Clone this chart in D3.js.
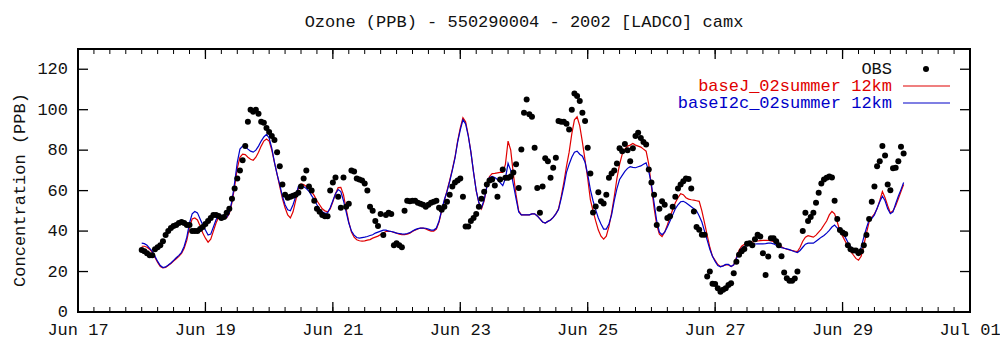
<!DOCTYPE html>
<html><head><meta charset="utf-8">
<script src="https://cdn.jsdelivr.net/npm/d3@7"></script>
<style>body{margin:0;background:#fff}svg{display:block}text{font-family:"Liberation Mono","DejaVu Sans Mono",monospace}</style>
</head><body>
<svg id="c" width="1000" height="347"></svg>
<script>
const titleText = "Ozone (PPB) - 550290004 - 2002 [LADCO] camx";
const yLabel = "Concentration (PPB)";
const seriesNames = ["OBS", "baseJ_02summer 12km", "baseI2c_02summer 12km"];
const seriesColors = ["#000000", "#e00000", "#0000c8"];
const startHour = Date.UTC(2002, 5, 18, 0); // first hourly value
const yTicks = [0, 20, 40, 60, 80, 100, 120];
const xTickDays = ["2002-06-17","2002-06-19","2002-06-21","2002-06-23","2002-06-25","2002-06-27","2002-06-29","2002-07-01"];

// hourly observations, Jun 18 00h .. Jun 29 23h
const obs = [
30.7,30,29,28,28,31,32,33,35,38,40,41.5,42.5,43,44,44.5,44,43,43,40,40,40,41,42,
43.5,45,46.5,48,48,47.5,46.5,47,49,51,56,61,66,70,75,82,94,100,99,100,98,94,93.5,91,
89,87,85,79,72,63,58,56.5,57,57.5,58,59,62,66,70,62,60,55,51,49.5,48,47.3,47.3,60,
64,66.5,57,51.5,66.5,52,53.5,70,69.5,66,65.5,65,63.5,60,52,50,45,42.5,48.5,38,48,49,48.5,33,
34,33,32,50,55,54.7,55,55,54,53.5,53,52,53,54,54.5,55,51.5,50.6,52,54.5,58,62,64,65,
66,57,42.3,42.3,45,46.5,48.5,52,56,59.5,63,65,65.5,62.5,57,65.5,70.4,66.3,66.3,67,69,73,61.3,80.3,
98.5,105,97.7,96.5,81.2,61.3,49,62,76,74.5,66.3,71.3,76.2,94.4,94,94,93,90.2,100,108,106.8,104.3,98.5,94.4,
81.2,68.4,49.2,52.2,59.2,54.7,53.6,58,66.3,68.4,70,73.4,81,79.5,83,80,74.5,81,87,88.6,86,84,82.8,70.4,
64,58,43,51,54.7,53,46.5,47.3,52,57,61,63,64.6,66,65.8,61,49.7,42,40.7,38.2,38.2,17.5,20,14,
13.9,11.7,10,11,11.7,13.4,14.2,19.2,24.9,28.3,30,31.1,33.7,34,33,36,38.2,37.3,29,18.3,27.4,36.5,36.5,35,
33,27.5,19.5,16.7,15.5,15.5,16.5,20,null,40,49,45,47,49,54,59,63.5,65.5,66.3,67,66.5,55,46,40.5,
39.3,38.5,33,31,30.4,30.4,29.1,30,33,38,46,54.5,62,72,74.5,82,77.4,63,60.2,71,71.3,74.5,81.7,78.3
];
// model baseJ_02summer 12km (red)
const baseJ = [
32.5,32.5,32,31,29.5,27,24.5,22.5,21.8,22,23,24,25.2,26.3,27.5,29,31.5,35.5,42,46,46.5,45.5,42.5,39,
36.5,34.5,36,40,44,47,47,46.5,46.5,48.5,54,62,71,76.5,78,77.8,76.5,75.5,75,76.5,79,82,84.5,85.5,
84.5,80,74,68,62,56,51.5,48,46.5,49.5,55,61,63.3,63,62,61,59.5,57.5,55,53,51,50,49.5,51,
54.5,58.5,61.5,61.6,58,51,44.5,39.5,37,35.7,35.2,35,35.2,35.5,35.8,36.5,37,37.5,38.3,39,39.8,40,39.8,39.3,
39,38.5,38.2,38.2,38.5,39,39.8,40.5,41,41.5,41.5,41,40.5,40,40,41,44.5,50,55,60,65,70.5,76.5,84.5,
91,96,94,87.5,79,69,60,54,51,55,62,67,68.4,68.5,68.8,69,69,73,84.5,80,68,58,50,48,
48,48,48,48.5,48.5,47.5,46,44.5,44,44.8,45.5,46.8,48.5,51,57,64,72,79,88,95,96.5,92,84,75,
66,55.5,50,45,40.5,37.5,36,37.5,42.3,49,57,66,73,78,80.5,82,82.5,83.3,82.5,82,81.5,80.5,79.5,73,
62,51.5,43,38.5,37.3,39.5,43,47,50.5,54,56.5,58.5,58,56.5,55.8,55.5,55.3,55,54.7,50,44,38,32,27.5,
25.5,23.5,22.5,22.8,23.3,23.3,22.5,23.3,27,30.5,32.5,33.5,34,34.3,34.6,34.9,35.1,35.3,35.4,35.4,35.4,35.3,34.8,34,
33,32.2,31.5,31,30.7,30.4,30.1,29.9,32,35,37,37.7,37.4,37,38,39.5,41,43,45,48,49.7,48.5,44.5,40,
37.5,35,32.5,30,28.3,26.5,25.6,27.5,33,39,44.5,46.8,48.5,51,55,59.6,56.5,52.5,49,50,52.5,56,59.5,63
];
// model baseI2c_02summer 12km (blue)
const baseI2c = [
34,33.8,33,31.5,30,27.5,25,23,22,22.3,23.2,24.2,25.5,26.8,28,29.5,32.5,37,44,48.5,49.7,49,46,43,
40.5,38,38.5,42,45.6,48,47.8,47,46.8,49,55,64,74,80.5,82,81.8,80.5,79.5,79,80,82,84.5,86.5,87.8,
86,81,74,68,63,57.2,53,50.5,50,53,57,62,62.5,62,61,59.7,57.5,55.5,53,51,49.5,48.8,49,51.5,
55,58.5,60.5,59.5,55,49.5,44,40,38,36.8,36.5,36.8,37,37.3,37.8,38.2,39,39.5,40,40.5,40.5,40,39.8,39.5,
39,38.8,38.6,38.5,38.8,39.2,40,40.7,41.2,41.5,41.5,41.4,41,40.5,40.5,41.5,45,50.5,55.5,59.5,64.5,70,76,84,
90,95,93,87,79,69,60,54,51.5,55.5,62,66.5,67,66.5,65.5,64,62.5,66,73.5,70,63,56,49.5,48,
48,48,48,48.5,48.5,47.5,46,44.5,44,44.8,45.5,46.8,48.5,50.6,56,62,69,73,76.5,79,79.5,78,77,74,
68,60.5,55,50.5,46.5,43.5,41,41,43.5,48,55,61,65.5,67.5,69.5,71,71.8,71.5,71.3,71.8,72.2,73,73.7,69.5,
63,54,45,39.5,38.2,39.5,42,45,48,51,53,54.5,54.7,54,53,52,51,50,47.5,44.5,40,35.5,31,27.5,
25,23,22.3,22.8,23.5,23.5,22.5,23.3,26.5,29.5,31.5,32.5,32.8,33.2,33.4,33.6,33.7,33.7,33.7,33.8,34,34,33.7,33,
32.2,31.8,31.5,31.2,30.8,30.3,29.8,29.4,30.4,32,33.5,34,34,34,35,36,37,37.8,39,40.3,42,43,41.5,40.8,
39.3,37,34.5,32.3,30.5,29.4,28.3,32,37,41.5,45.5,46.2,48,51.3,54.5,57.2,55,51,48.6,49.5,53.5,57.2,60.5,64
];

const svg = d3.select("#c");
const L = 78, R = 970, T = 49, B = 312;
const x = d3.scaleUtc().domain([new Date(Date.UTC(2002,5,17)), new Date(Date.UTC(2002,6,1))]).range([L, R]);
const y = d3.scaleLinear().domain([0, 130]).range([B, T]);
const tAt = i => new Date(startHour + i * 3600000);
const fs = 17, txt = "#111";

// title
svg.append("text").attr("x", 524).attr("y", 27).attr("text-anchor", "middle")
  .attr("font-size", fs).attr("fill", txt).text(titleText);
// y label
svg.append("text").attr("transform", "translate(25,190) rotate(-90)").attr("text-anchor", "middle")
  .attr("font-size", fs).attr("fill", txt).text(yLabel);

// axes (ticks inward)
const g = svg.append("g");
const majorDays = xTickDays.map(d => new Date(d + "T00:00:00Z"));
const minor = d3.utcHour.every(6).range(x.domain()[0], x.domain()[1]);
minor.forEach(d => {
  const xx = x(d);
  g.append("line").attr("x1", xx).attr("x2", xx).attr("y1", B).attr("y2", B - 5).attr("stroke", "#000").attr("stroke-width", 1);
  g.append("line").attr("x1", xx).attr("x2", xx).attr("y1", T).attr("y2", T + 5).attr("stroke", "#000").attr("stroke-width", 1);
});
majorDays.forEach(d => {
  const xx = x(d);
  g.append("line").attr("x1", xx).attr("x2", xx).attr("y1", B).attr("y2", B - 10).attr("stroke", "#000").attr("stroke-width", 1.3);
  g.append("line").attr("x1", xx).attr("x2", xx).attr("y1", T).attr("y2", T + 10).attr("stroke", "#000").attr("stroke-width", 1.3);
  g.append("text").attr("x", xx).attr("y", 335).attr("text-anchor", "middle").attr("font-size", fs).attr("fill", txt)
    .text(d3.utcFormat("%b %d")(d));
});
yTicks.forEach(v => {
  const yy = y(v);
  g.append("line").attr("x1", L).attr("x2", L + 10).attr("y1", yy).attr("y2", yy).attr("stroke", "#000").attr("stroke-width", 1.3);
  g.append("line").attr("x1", R).attr("x2", R - 10).attr("y1", yy).attr("y2", yy).attr("stroke", "#000").attr("stroke-width", 1.3);
  g.append("text").attr("x", 68).attr("y", yy + 5).attr("text-anchor", "end").attr("font-size", fs).attr("fill", txt).text(v);
});

// model lines
const line = d3.line().defined(d => d != null).x((d, i) => x(tAt(i))).y(d => y(d));
svg.append("path").datum(baseJ).attr("d", line).attr("fill", "none").attr("stroke", seriesColors[1]).attr("stroke-width", 1.2);
svg.append("path").datum(baseI2c).attr("d", line).attr("fill", "none").attr("stroke", seriesColors[2]).attr("stroke-width", 1.2);

// obs points
svg.append("g").selectAll("circle").data(obs.map((v, i) => ({v, i})).filter(d => d.v != null))
  .join("circle").attr("cx", d => x(tAt(d.i))).attr("cy", d => y(d.v)).attr("r", 3).attr("fill", "#000");

// frame
svg.append("rect").attr("x", L).attr("y", T).attr("width", R - L).attr("height", B - T)
  .attr("fill", "none").attr("stroke", "#000").attr("stroke-width", 2);

// legend
const leg = svg.append("g");
[69, 86, 103].forEach((ly, k) => {
  leg.append("text").attr("x", 892).attr("y", ly + 5).attr("text-anchor", "end").attr("font-size", fs)
    .attr("fill", k === 0 ? txt : seriesColors[k]).text(seriesNames[k]);
  if (k === 0) leg.append("circle").attr("cx", 926).attr("cy", ly).attr("r", 3).attr("fill", "#000");
  else leg.append("line").attr("x1", 903).attr("x2", 950).attr("y1", ly).attr("y2", ly).attr("stroke", seriesColors[k]).attr("stroke-width", 1.2);
});
</script>
</body></html>
